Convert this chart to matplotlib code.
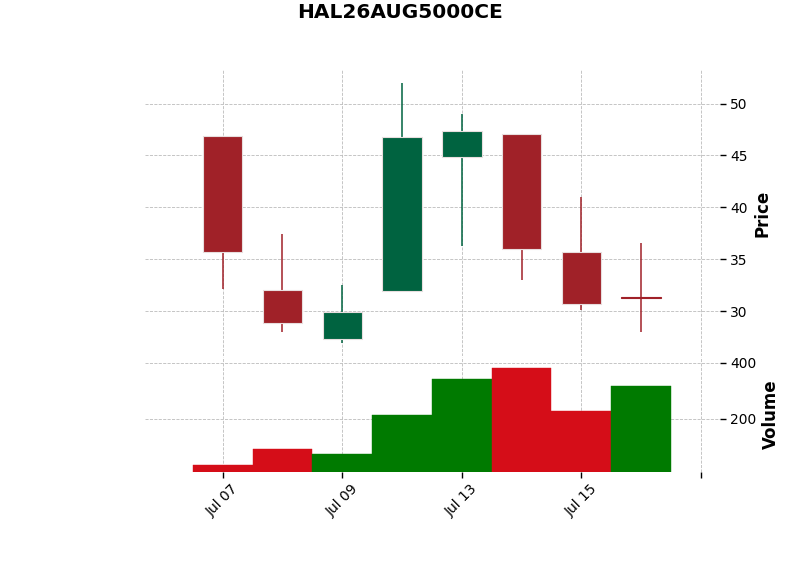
import matplotlib
matplotlib.use("Agg")
import matplotlib.pyplot as plt
import numpy as np

# OHLCV data
dates = ["Jul 07", "Jul 08", "Jul 09", "Jul 10", "Jul 13", "Jul 14", "Jul 15", "Jul 16"]
opens = [46.86, 32.05, 27.35, 31.96, 44.90, 47.05, 35.70, 31.36]
highs = [46.86, 37.40, 32.47, 51.99, 49.00, 47.05, 41.03, 36.60]
lows = [32.09, 27.95, 26.92, 31.96, 36.25, 32.95, 30.10, 27.95]
closes = [35.67, 28.85, 29.93, 46.77, 47.34, 35.96, 30.67, 31.26]
volumes = [33, 90, 72, 212, 344, 383, 226, 316]

up_col, down_col = "#006340", "#A02128"
vup_col, vdown_col = "#007a00", "#d50d18"

x = np.arange(len(dates))
o = np.array(opens)
c = np.array(closes)
h = np.array(highs)
l = np.array(lows)
v = np.array(volumes)

fig = plt.figure(figsize=(8, 5.75), dpi=100)
ax = fig.add_axes([0.18125, 0.3809, 0.71875, 0.4974])
axv = fig.add_axes([0.18125, 0.18, 0.71875, 0.1991], sharex=ax)

# candles
cols = [up_col if cc >= oo else down_col for oo, cc in zip(o, c)]
ax.vlines(x, l, h, colors=cols, linewidth=1.1, zorder=2)
body_h = np.abs(c - o)
edges = ["#e8dede" if bh > 0.5 else col for bh, col in zip(body_h, cols)]
ax.bar(x, np.maximum(body_h, 0.1), bottom=np.minimum(o, c), width=0.66, color=cols,
       edgecolor=edges, linewidth=0.8, zorder=3)

# volume colour: close vs previous close
vcols = [vdown_col if c[0] < o[0] else vup_col]
for i in range(1, len(c)):
    vcols.append(vup_col if c[i] >= c[i - 1] else vdown_col)
axv.bar(x, v, width=1.0, color=vcols, edgecolor=vcols, linewidth=0.3, zorder=3)

lo, hi = l.min(), h.max()
pad = 0.05 * (hi - lo)
ax.set_ylim(lo - pad, hi + pad)
axv.set_ylim(0.3 * v.min(), 1.1 * v.max())
ax.set_xlim(-1.3, 8.32)

tick_pos = [0, 2, 4, 6, 8]
tick_lab = [dates[i] if i < len(dates) else "" for i in tick_pos]
axv.set_xticks(tick_pos)
axv.set_xticklabels(tick_lab, rotation=45, ha="center", fontsize=10)
ax.set_yticks([30, 35, 40, 45, 50])
axv.set_yticks([200, 400])

for a in (ax, axv):
    for s in a.spines.values():
        s.set_visible(False)
    a.yaxis.tick_right()
    a.yaxis.set_label_position("right")
    a.grid(True, linestyle="--", linewidth=0.6, color="#bcbcbc")
    a.set_axisbelow(True)
    a.tick_params(axis="y", labelsize=10, length=4, width=1)
ax.tick_params(axis="x", bottom=False, labelbottom=False)
axv.tick_params(axis="x", length=4, width=1)

ax.set_ylabel("Price", fontsize=12, fontweight="bold", labelpad=3.7)
axv.set_ylabel("Volume", fontsize=12, fontweight="bold", labelpad=3.7)

fig.suptitle("HAL26AUG5000CE", fontsize=14.5, fontweight="bold", y=0.995)

fig.savefig("out.png", dpi=100)
